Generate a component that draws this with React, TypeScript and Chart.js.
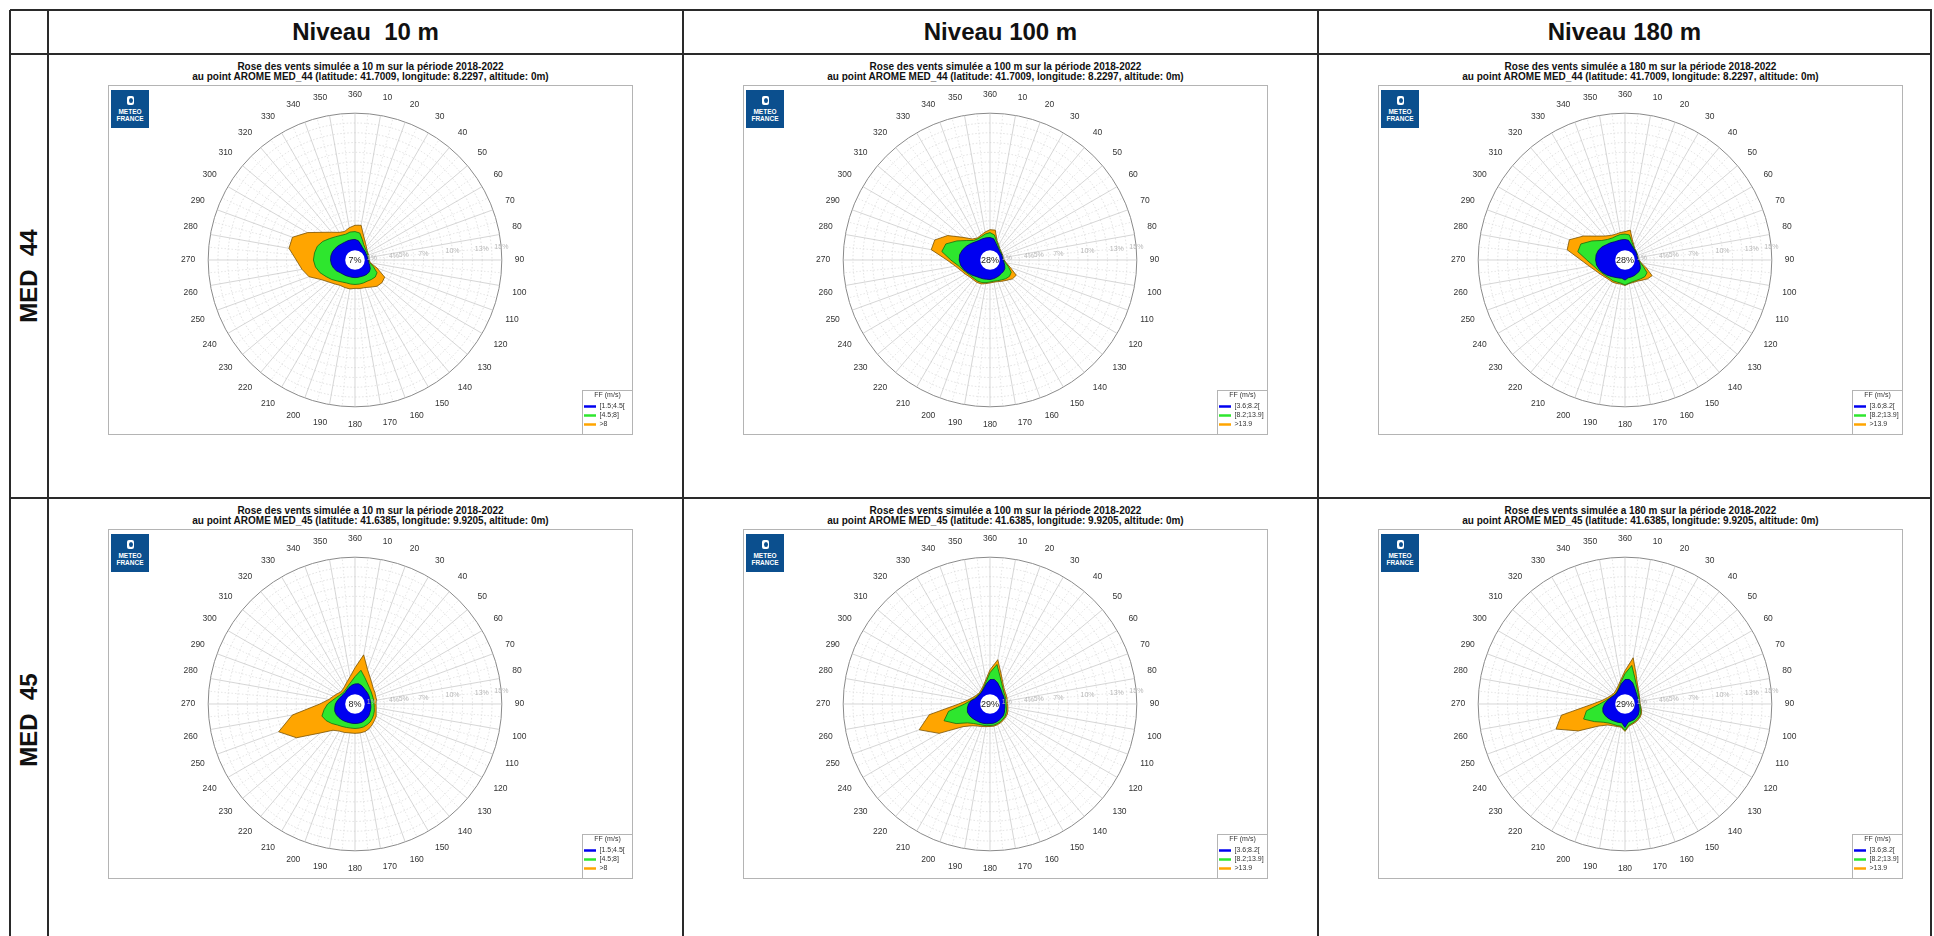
import React, { useEffect, useRef } from 'react';
import { Chart, registerables } from 'chart.js';

Chart.register(...registerables);

// ---------- data ----------
const DIRECTIONS = ['360', '10', '20', '30', '40', '50', '60', '70', '80', '90', '100', '110', '120', '130', '140', '150', '160', '170',
  '180', '190', '200', '210', '220', '230', '240', '250', '260', '270', '280', '290', '300', '310', '320', '330', '340', '350'];

const LEVEL_HEADERS = ['Niveau  10 m', 'Niveau 100 m', 'Niveau 180 m'];
const LEVEL_HEIGHTS = ['10', '100', '180'];
const POINT_LABELS = ['MED  44', 'MED  45'];
const POINT_NAMES = ['MED_44', 'MED_45'];
const POINT_COORDS = [
  '(latitude: 41.7009, longitude: 8.2297, altitude: 0m)',
  '(latitude: 41.6385, longitude: 9.9205, altitude: 0m)',
];
const CLASSES_10M = ['[1.5;4.5[', '[4.5;8]', '>8'];
const CLASSES_HIGH = ['[3.6;8.2[', '[8.2;13.9]', '>13.9'];
const CALM_MED44 = ['7%', '28%', '28%'];
const CALM_MED45 = ['8%', '29%', '29%'];
const RADIAL_TICK_LABELS = [1, 4, 5, 7, 10, 13, 15];
const SCALE_MAX = 15;
const CALM_HOLE = 1.0;

// cumulative frequencies (%) per direction, classes 1 / 1+2 / 1+2+3
const MED44_10_C1 = [2.1, 2.0, 1.7, 1.5, 1.4, 1.35, 1.3, 1.3, 1.3, 1.35, 1.4, 1.6, 1.8, 1.9, 1.9, 1.85, 1.8, 1.8, 1.8, 1.8, 1.8, 1.85, 1.9, 2.0, 2.2, 2.35, 2.45, 2.5, 2.5, 2.45, 2.35, 2.25, 2.15, 2.1, 2.1, 2.1];
const MED44_10_C2 = [2.9, 2.8, 2.2, 1.8, 1.6, 1.5, 1.45, 1.4, 1.4, 1.4, 1.5, 2.0, 2.6, 2.7, 2.6, 2.5, 2.5, 2.5, 2.5, 2.5, 2.5, 2.6, 2.8, 3.1, 3.4, 3.8, 4.1, 4.25, 4.2, 4.1, 3.8, 3.4, 3.1, 2.9, 2.8, 2.9];
const MED44_10_C3 = [3.55, 3.6, 2.6, 2.1, 1.8, 1.6, 1.5, 1.5, 1.45, 1.45, 1.6, 2.4, 3.5, 3.6, 3.5, 3.2, 3.0, 2.95, 2.9, 3.0, 3.0, 3.0, 3.2, 3.5, 4.0, 5.0, 5.5, 6.0, 6.85, 6.8, 5.6, 4.4, 3.7, 3.26, 3.1, 3.35];

const MED44_100_C1 = [2.3, 2.2, 1.8, 1.55, 1.4, 1.3, 1.3, 1.3, 1.3, 1.35, 1.45, 1.6, 1.75, 1.8, 1.8, 1.85, 1.9, 1.95, 2.0, 2.0, 2.05, 2.1, 2.2, 2.4, 2.6, 2.85, 3.05, 3.15, 3.15, 3.0, 2.8, 2.6, 2.4, 2.3, 2.3, 2.3];
const MED44_100_C2 = [2.8, 2.6, 2.0, 1.7, 1.5, 1.4, 1.35, 1.35, 1.35, 1.4, 1.6, 2.0, 2.5, 2.6, 2.5, 2.35, 2.25, 2.2, 2.25, 2.35, 2.45, 2.5, 2.5, 2.55, 2.7, 2.95, 3.3, 4.0, 5.0, 4.8, 3.9, 3.1, 2.6, 2.5, 2.55, 2.7];
const MED44_100_C3 = [3.1, 3.1, 2.1, 1.8, 1.55, 1.45, 1.4, 1.4, 1.4, 1.45, 1.7, 2.2, 3.1, 3.0, 2.7, 2.5, 2.35, 2.3, 2.35, 2.45, 2.6, 2.65, 2.65, 2.7, 2.9, 3.16, 3.6, 4.4, 6.1, 6.0, 5.0, 3.6, 2.8, 2.6, 2.7, 2.9];

const MED44_180_C1 = [2.1, 2.05, 1.75, 1.55, 1.45, 1.4, 1.35, 1.3, 1.3, 1.35, 1.5, 1.65, 1.8, 1.85, 1.85, 1.85, 1.85, 1.85, 2.05, 1.9, 1.95, 2.05, 2.2, 2.4, 2.6, 2.8, 2.95, 3.0, 3.0, 2.9, 2.7, 2.45, 2.3, 2.15, 2.1, 2.1];
const MED44_180_C2 = [2.65, 2.6, 2.0, 1.7, 1.5, 1.45, 1.4, 1.35, 1.35, 1.4, 1.6, 2.0, 2.6, 2.65, 2.5, 2.4, 2.35, 2.4, 2.55, 2.4, 2.4, 2.45, 2.45, 2.55, 2.7, 2.95, 3.3, 3.9, 4.9, 4.8, 3.9, 3.1, 2.75, 2.6, 2.6, 2.65];
const MED44_180_C3 = [2.9, 3.1, 2.2, 1.8, 1.55, 1.45, 1.4, 1.4, 1.4, 1.45, 1.7, 2.3, 3.2, 3.0, 2.7, 2.5, 2.45, 2.45, 2.6, 2.5, 2.55, 2.6, 2.6, 2.7, 2.9, 3.2, 3.7, 4.5, 6.0, 6.05, 4.9, 3.8, 3.2, 2.9, 2.8, 2.85];

const MED45_10_C1 = [2.05, 2.1, 2.0, 1.85, 1.75, 1.7, 1.65, 1.6, 1.6, 1.6, 1.65, 1.7, 1.75, 1.85, 1.9, 1.95, 2.0, 2.0, 2.0, 2.0, 2.0, 2.05, 2.1, 2.15, 2.2, 2.2, 2.1, 2.0, 1.85, 1.7, 1.6, 1.55, 1.55, 1.65, 1.8, 1.95];
const MED45_10_C2 = [2.8, 3.5, 2.9, 2.5, 2.25, 2.1, 2.0, 1.95, 1.95, 1.95, 2.0, 2.1, 2.2, 2.3, 2.4, 2.45, 2.5, 2.5, 2.5, 2.5, 2.55, 2.65, 2.8, 3.1, 3.4, 3.6, 3.2, 2.8, 2.3, 2.0, 1.8, 1.7, 1.7, 1.8, 2.0, 2.3];
const MED45_10_C3 = [3.7, 5.1, 3.75, 3.1, 2.7, 2.45, 2.35, 2.25, 2.25, 2.15, 2.2, 2.3, 2.5, 2.6, 2.75, 2.9, 3.0, 3.0, 3.0, 3.0, 3.1, 3.2, 3.5, 4.6, 6.9, 8.3, 6.5, 3.6, 2.7, 2.35, 2.1, 1.9, 1.95, 2.1, 2.4, 2.85];

const MED45_100_C1 = [2.5, 2.55, 2.3, 2.0, 1.8, 1.65, 1.6, 1.55, 1.5, 1.5, 1.55, 1.6, 1.7, 1.8, 1.85, 1.9, 1.95, 2.0, 2.0, 2.05, 2.1, 2.15, 2.2, 2.3, 2.4, 2.45, 2.35, 2.2, 1.95, 1.6, 1.5, 1.45, 1.45, 1.55, 1.75, 2.1];
const MED45_100_C2 = [3.2, 4.1, 3.0, 2.4, 2.05, 1.85, 1.75, 1.7, 1.65, 1.65, 1.7, 1.8, 1.9, 2.0, 2.05, 2.1, 2.15, 2.2, 2.2, 2.25, 2.3, 2.4, 2.6, 3.0, 4.0, 5.0, 4.3, 2.6, 2.0, 1.7, 1.55, 1.5, 1.5, 1.6, 1.85, 2.3];
const MED45_100_C3 = [3.5, 4.6, 3.3, 2.6, 2.2, 2.0, 1.9, 1.85, 1.8, 1.8, 1.85, 1.95, 2.05, 2.1, 2.15, 2.2, 2.25, 2.3, 2.3, 2.35, 2.45, 2.6, 2.9, 3.6, 6.0, 7.7, 6.3, 3.2, 2.3, 1.9, 1.7, 1.6, 1.6, 1.75, 2.0, 2.5];

const MED45_180_C1 = [2.5, 2.55, 2.3, 1.95, 1.7, 1.55, 1.45, 1.4, 1.4, 1.4, 1.45, 1.55, 1.65, 1.75, 1.8, 1.85, 1.85, 1.9, 2.4, 1.95, 2.0, 2.05, 2.15, 2.25, 2.35, 2.4, 2.3, 2.1, 1.85, 1.65, 1.5, 1.4, 1.4, 1.5, 1.7, 2.1];
const MED45_180_C2 = [3.1, 4.0, 2.9, 2.3, 1.95, 1.75, 1.6, 1.55, 1.5, 1.5, 1.6, 1.7, 1.85, 1.95, 2.0, 2.05, 2.1, 2.2, 2.7, 2.3, 2.35, 2.4, 2.55, 2.9, 3.6, 4.5, 4.0, 2.6, 2.0, 1.7, 1.55, 1.45, 1.45, 1.55, 1.8, 2.3];
const MED45_180_C3 = [3.4, 4.8, 3.3, 2.5, 2.1, 1.85, 1.7, 1.6, 1.55, 1.55, 1.65, 1.8, 1.95, 2.05, 2.1, 2.15, 2.2, 2.3, 2.8, 2.4, 2.45, 2.55, 2.8, 3.5, 5.5, 7.5, 6.6, 3.3, 2.3, 1.9, 1.7, 1.6, 1.6, 1.75, 2.0, 2.5];

// ---------- style ----------
const FONT = '"Liberation Sans", Arial, sans-serif';
const NARROW = '"Liberation Sans Narrow", "Liberation Sans", Arial, sans-serif';
const FILLS = ['#0000f0', '#2ee62e', '#ffa500'];
const EDGES = ['#00006e', '#107010', '#7a5200'];
const LEG_FONT = 7;
const LEG_PAD = 2;

const CANVAS_W = 525;
const CANVAS_H = 350;

const roseDecor = {
  id: 'roseDecor',
  beforeDatasetsDraw(chart: any) {
    const s = chart.scales.r;
    const ctx = chart.ctx;
    const n = chart.data.labels.length;
    ctx.save();
    ctx.strokeStyle = '#dcdcdc';
    ctx.lineWidth = 0.7;
    ctx.setLineDash([1.5, 2]);
    for (let i = 0; i < n; i++) {
      const p = s.getPointPosition(i + 0.5, s.drawingArea);
      ctx.beginPath();
      ctx.moveTo(s.xCenter, s.yCenter);
      ctx.lineTo(p.x, p.y);
      ctx.stroke();
    }
    ctx.restore();
  },
  afterDraw(chart: any, _args: any, opts: any) {
    const s = chart.scales.r;
    const ctx = chart.ctx;
    ctx.save();
    // calm hole
    const hr = s.getDistanceFromCenterForValue(CALM_HOLE);
    ctx.fillStyle = '#ffffff';
    ctx.beginPath();
    ctx.arc(s.xCenter, s.yCenter, hr, 0, Math.PI * 2);
    ctx.fill();
    ctx.fillStyle = '#222';
    ctx.font = `9px ${FONT}`;
    ctx.textAlign = 'center';
    ctx.textBaseline = 'middle';
    ctx.fillText(opts.calm, s.xCenter, s.yCenter + 0.5);
    // radial tick labels
    ctx.fillStyle = '#b8b8b8';
    ctx.font = `7px ${FONT}`;
    const ang = (85.5 * Math.PI) / 180;
    RADIAL_TICK_LABELS.forEach((v) => {
      const text = v + '%';
      const d = Math.max(s.getDistanceFromCenterForValue(v), hr + ctx.measureText(text).width / 2 + 2);
      ctx.fillText(text, s.xCenter + d * Math.sin(ang), s.yCenter - d * Math.cos(ang) - 1);
    });
    // plot frame
    ctx.strokeStyle = '#b4b4b4';
    ctx.lineWidth = 1;
    ctx.strokeRect(0.5, 0.5, chart.width - 1, chart.height - 1);
    // legend frame
    const lg = chart.legend;
    const colH = chart.data.datasets.length * (LEG_FONT + LEG_PAD);
    const titleH = LEG_FONT * 1.2 + 3;
    const top = Math.round(lg.bottom - colH - LEG_PAD - titleH) + 0.5;
    const left = Math.round(lg.left) + 0.5;
    ctx.strokeRect(left, top, chart.width - 0.5 - left, chart.height - 0.5 - top);
    ctx.restore();
  },
};

function WindRose({ series, classes, calm }: { series: number[][]; classes: string[]; calm: string }) {
  const ref = useRef<HTMLCanvasElement>(null);
  useEffect(() => {
    const chart = new Chart(ref.current as HTMLCanvasElement, {
      type: 'radar',
      data: {
        labels: DIRECTIONS,
        datasets: series.map((d, i) => ({
          label: classes[i],
          data: d,
          backgroundColor: FILLS[i],
          borderColor: EDGES[i],
          borderWidth: 0.8,
          fill: 'origin',
          pointRadius: 0,
          pointHoverRadius: 0,
          tension: 0,
        })),
      },
      options: {
        responsive: false,
        animation: false,
        events: [],
        layout: { padding: { left: 20, right: 0, top: 5, bottom: 5 } },
        plugins: {
          tooltip: { enabled: false },
          title: { display: false },
          legend: {
            position: 'right',
            align: 'end',
            maxWidth: 51,
            title: {
              display: true,
              text: 'FF (m/s)',
              color: '#333',
              font: { family: FONT, size: LEG_FONT },
              padding: { top: 2, bottom: 1 },
            },
            labels: {
              font: { family: FONT, size: LEG_FONT },
              color: '#333',
              padding: LEG_PAD,
              usePointStyle: true,
              pointStyle: 'line',
              pointStyleWidth: 12,
              boxHeight: LEG_FONT,
              generateLabels: (ch: any) =>
                ch.data.datasets.map((ds: any, i: number) => ({
                  text: ds.label,
                  fillStyle: FILLS[i],
                  strokeStyle: FILLS[i],
                  lineWidth: 2.5,
                  pointStyle: 'line',
                  hidden: false,
                  datasetIndex: i,
                  fontColor: '#333',
                })),
            },
          },
          roseDecor: { calm },
        } as any,
        scales: {
          r: {
            min: 0,
            max: SCALE_MAX,
            startAngle: 0,
            ticks: { display: false, stepSize: 1 },
            grid: {
              circular: true,
              color: (c: any) => (c.tick && c.tick.value === SCALE_MAX ? '#8a8a8a' : '#d4d4d4'),
              lineWidth: (c: any) => (c.tick && c.tick.value === SCALE_MAX ? 1 : 0.7),
            },
            border: { dash: (c: any) => (c.tick && c.tick.value === SCALE_MAX ? [] : [1.5, 2]) },
            angleLines: { color: '#c4c4c4', lineWidth: 0.7 },
            pointLabels: { font: { family: FONT, size: 8.5 }, color: '#333', padding: 13 },
          } as any,
        },
      },
      plugins: [roseDecor],
    } as any);
    return () => chart.destroy();
  }, []);
  return <canvas ref={ref} width={CANVAS_W} height={CANVAS_H} style={{ width: CANVAS_W, height: CANVAS_H, display: 'block' }} />;
}

const COL_X = [48, 683, 1318, 1931];
const ROW_Y = [10, 54, 498, 942];
const LINE = '#2a2a2a';

function Logo() {
  return (
    <div style={{ position: 'absolute', left: 3, top: 5, width: 38, height: 38, background: '#0b4f8e', color: '#fff', fontFamily: NARROW, fontWeight: 'bold', fontSize: 6.5, lineHeight: '7px', textAlign: 'center' }}>
      <div style={{ margin: '6px auto 3px', width: 7, height: 9, background: '#fff', borderRadius: 2, position: 'relative' }}>
        <div style={{ position: 'absolute', left: 2.5, top: 2, width: 4, height: 5, borderRadius: '50%', background: '#0b4f8e' }} />
      </div>
      <div>METEO</div>
      <div>FRANCE</div>
    </div>
  );
}

export default function App() {
  const roses = [
    [[MED44_10_C1, MED44_10_C2, MED44_10_C3], [MED44_100_C1, MED44_100_C2, MED44_100_C3], [MED44_180_C1, MED44_180_C2, MED44_180_C3]],
    [[MED45_10_C1, MED45_10_C2, MED45_10_C3], [MED45_100_C1, MED45_100_C2, MED45_100_C3], [MED45_180_C1, MED45_180_C2, MED45_180_C3]],
  ];
  const calms = [CALM_MED44, CALM_MED45];
  const hLines = ROW_Y;
  const vLines = [10, ...COL_X];
  return (
    <div style={{ position: 'absolute', left: 0, top: 0, width: 1934, height: 936, overflow: 'hidden', background: '#fff' }}>
      {hLines.map((y, i) => (
        <div key={'h' + i} style={{ position: 'absolute', left: 10, top: y - 1, width: 1931 - 10 + 1, height: 2, background: LINE }} />
      ))}
      {vLines.map((x, i) => (
        <div key={'v' + i} style={{ position: 'absolute', left: x - 1, top: 10, width: 2, height: 942 - 10, background: LINE }} />
      ))}
      {LEVEL_HEADERS.map((t, c) => (
        <div key={'hd' + c} style={{ position: 'absolute', left: COL_X[c], width: COL_X[c + 1] - COL_X[c], top: 10, height: 44, lineHeight: '44px', textAlign: 'center', fontFamily: NARROW, fontWeight: 'bold', fontSize: 24, whiteSpace: 'pre', color: '#111' }}>
          {t}
        </div>
      ))}
      {POINT_LABELS.map((t, r) => (
        <div key={'rl' + r} style={{ position: 'absolute', left: 29 - 100, top: (ROW_Y[r + 1] + ROW_Y[r + 2]) / 2 - 15, width: 200, height: 30, lineHeight: '30px', textAlign: 'center', fontFamily: FONT, fontWeight: 'bold', fontSize: 24, whiteSpace: 'pre', transform: 'rotate(-90deg)', color: '#111' }}>
          {t}
        </div>
      ))}
      {[0, 1].map((r) =>
        [0, 1, 2].map((c) => {
          const cellLeft = COL_X[c];
          const cellTop = ROW_Y[r + 1];
          const left = cellLeft + 60;
          return (
            <React.Fragment key={'cell' + r + c}>
              <div style={{ position: 'absolute', left, top: cellTop + 8, width: CANVAS_W, lineHeight: '10px', fontSize: 10, fontFamily: NARROW, fontWeight: 'bold', textAlign: 'center', whiteSpace: 'nowrap', color: '#111' }}>
                <div>{`Rose des vents simulée a ${LEVEL_HEIGHTS[c]} m sur la période 2018-2022`}</div>
                <div>{`au point AROME ${POINT_NAMES[r]} ${POINT_COORDS[r]}`}</div>
              </div>
              <div style={{ position: 'absolute', left, top: cellTop + 31, width: CANVAS_W, height: CANVAS_H }}>
                <WindRose series={roses[r][c]} classes={c === 0 ? CLASSES_10M : CLASSES_HIGH} calm={calms[r][c]} />
                <Logo />
              </div>
            </React.Fragment>
          );
        })
      )}
    </div>
  );
}
